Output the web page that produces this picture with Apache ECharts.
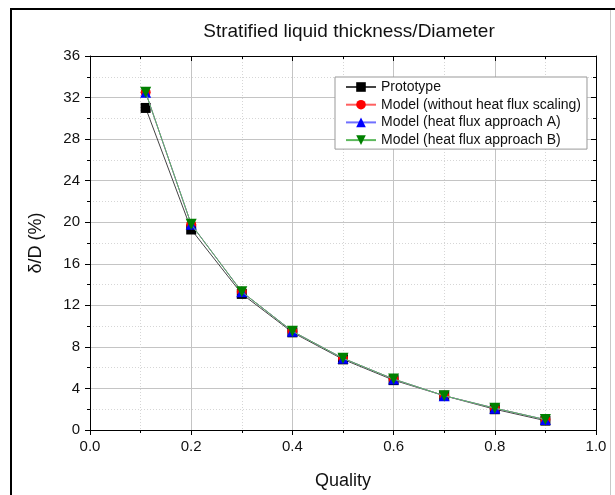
<!DOCTYPE html>
<html>
<head>
<meta charset="utf-8">
<script src="https://cdn.jsdelivr.net/npm/echarts@6/dist/echarts.min.js"></script>
<style>
  html, body { margin: 0; padding: 0; background: #fff; }
  #chart { width: 615px; height: 495px; }
</style>
</head>
<body>
<div id="chart"></div>
<script>
// Vapour quality values along the horizontal axis
const quality = [0.11, 0.2, 0.3, 0.4, 0.5, 0.6, 0.7, 0.8, 0.9];

// Stratified liquid thickness over diameter, in percent
const prototype = [31.0, 19.3, 13.1, 9.4, 6.8, 4.8, 3.3, 2.0, 0.9];
const modelNoScaling = [32.5, 19.8, 13.3, 9.5, 6.9, 4.9, 3.3, 2.1, 1.0];
const modelApproachA = [32.5, 19.8, 13.3, 9.5, 6.9, 4.9, 3.3, 2.1, 1.0];
const modelApproachB = [32.5, 19.8, 13.3, 9.5, 6.9, 4.9, 3.3, 2.1, 1.0];

const seriesNames = [
  'Prototype',
  'Model (without heat flux scaling)',
  'Model (heat flux approach A)',
  'Model (heat flux approach B)'
];

const pairs = (ys) => quality.map((q, i) => [q, ys[i]]);

const FONT = 'Liberation Sans, Arial, sans-serif';

const chart = echarts.init(document.getElementById('chart'), null, { renderer: 'canvas' });

const majorGrid = { show: true, lineStyle: { color: '#c4c4c4', width: 1 } };
const minorGrid = { show: true, lineStyle: { color: '#d6d6d6', width: 1, type: [1, 2] } };

chart.setOption({
  backgroundColor: '#fff',
  animation: false,
  title: {
    text: 'Stratified liquid thickness/Diameter',
    left: 344,
    textAlign: 'center',
    top: 17,
    textStyle: { fontFamily: FONT, fontSize: 19, fontWeight: 'normal', color: '#111' }
  },
  grid: { left: 90, right: 19, top: 56, bottom: 62, containLabel: false },
  legend: {
    orient: 'vertical',
    left: 335,
    top: 77,
    padding: [2, 6, 1, 10],
    itemWidth: 30,
    itemHeight: 12,
    itemGap: 1.7,
    borderColor: '#999',
    borderWidth: 1,
    backgroundColor: '#fff',
    textStyle: { fontFamily: FONT, fontSize: 14, color: '#111', lineHeight: 16 },
    data: seriesNames
  },
  xAxis: [
    {
      type: 'value', min: 0, max: 1, interval: 0.2, position: 'bottom',
      name: 'Quality', nameLocation: 'middle', nameGap: 42,
      nameTextStyle: { fontFamily: FONT, fontSize: 18, color: '#111' },
      axisLine: { show: true, onZero: false, lineStyle: { color: '#000', width: 1 } },
      axisTick: { show: true, inside: false, length: 5, lineStyle: { color: '#000' } },
      minorTick: { show: true, splitNumber: 2, length: 3, lineStyle: { color: '#000' } },
      axisLabel: { fontFamily: FONT, fontSize: 15, color: '#111', margin: 9,
        formatter: (v) => v.toFixed(1) },
      splitLine: majorGrid,
      minorSplitLine: minorGrid
    },
    {
      type: 'value', min: 0, max: 1, interval: 0.2, position: 'top',
      axisLine: { show: true, onZero: false, lineStyle: { color: '#000', width: 1 } },
      axisTick: { show: true, inside: true, length: 5, lineStyle: { color: '#000' } },
      minorTick: { show: true, splitNumber: 2, length: 3, lineStyle: { color: '#000' } },
      axisLabel: { show: false },
      splitLine: { show: false }
    }
  ],
  yAxis: [
    {
      type: 'value', min: 0, max: 36, interval: 4, position: 'left',
      name: 'δ/D (%)', nameLocation: 'middle', nameGap: 45, nameRotate: 90,
      nameTextStyle: { fontFamily: FONT, fontSize: 18, color: '#111' },
      axisLine: { show: true, onZero: false, lineStyle: { color: '#000', width: 1 } },
      axisTick: { show: true, inside: false, length: 5, lineStyle: { color: '#000' } },
      minorTick: { show: true, splitNumber: 2, length: 3, lineStyle: { color: '#000' } },
      axisLabel: { fontFamily: FONT, fontSize: 15, color: '#111', margin: 10 },
      splitLine: majorGrid,
      minorSplitLine: minorGrid
    },
    {
      type: 'value', min: 0, max: 36, interval: 4, position: 'right',
      axisLine: { show: true, onZero: false, lineStyle: { color: '#000', width: 1 } },
      axisTick: { show: true, inside: true, length: 5, lineStyle: { color: '#000' } },
      minorTick: { show: true, splitNumber: 2, length: 3, lineStyle: { color: '#000' } },
      axisLabel: { show: false },
      splitLine: { show: false }
    }
  ],
  graphic: [
    {
      type: 'polyline', silent: true, z: 100,
      shape: { points: [[11, 495], [11, 9], [615, 9]] },
      style: { stroke: '#000', lineWidth: 2, fill: null }
    },
    {
      type: 'line', silent: true, z: 100,
      shape: { x1: 610.5, y1: 10, x2: 610.5, y2: 495 },
      style: { stroke: '#c8c8c8', lineWidth: 1 }
    }
  ],
  series: [
    {
      name: seriesNames[0], type: 'line', data: pairs(prototype),
      symbol: 'rect', symbolSize: 10, color: '#000',
      lineStyle: { color: '#444', width: 1 }, itemStyle: { color: '#000' }, z: 2
    },
    {
      name: seriesNames[1], type: 'line', data: pairs(modelNoScaling),
      symbol: 'circle', symbolSize: 10, color: '#ff0000',
      lineStyle: { color: '#ff6060', width: 1 }, itemStyle: { color: '#ff0000' }, z: 3
    },
    {
      name: seriesNames[2], type: 'line', data: pairs(modelApproachA),
      symbol: 'triangle', symbolSize: 11, color: '#0000ff',
      lineStyle: { color: '#7070ff', width: 1 }, itemStyle: { color: '#0000ff' }, z: 4
    },
    {
      name: seriesNames[3], type: 'line', data: pairs(modelApproachB),
      symbol: 'triangle', symbolRotate: 180, symbolSize: 11, color: '#008000',
      lineStyle: { color: '#5cb85c', width: 1 }, itemStyle: { color: '#008000' }, z: 5
    }
  ]
});
</script>
</body>
</html>
